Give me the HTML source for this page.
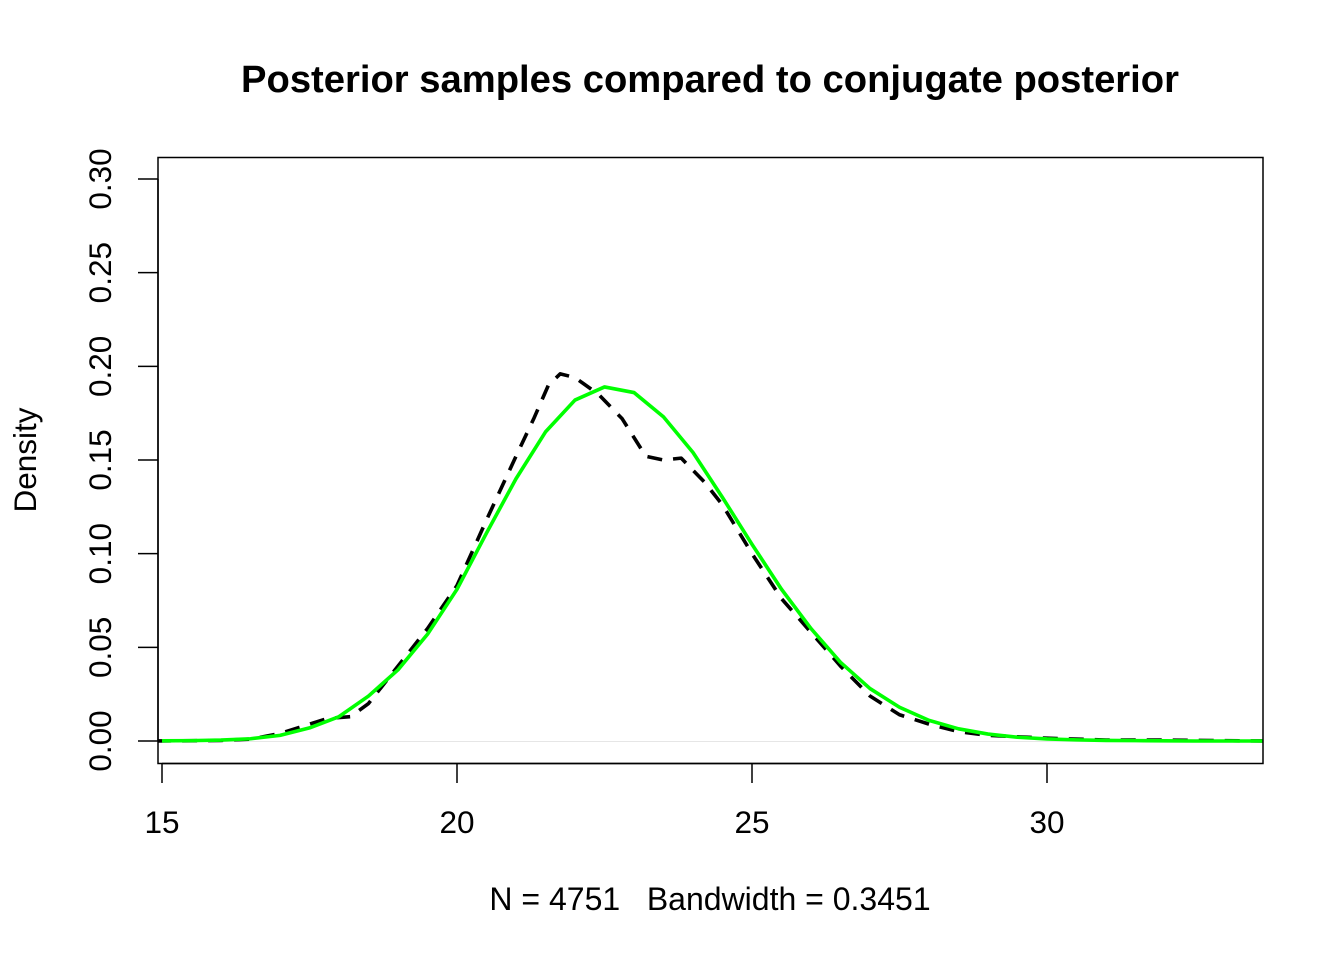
<!DOCTYPE html>
<html><head><meta charset="utf-8"><style>
html,body{margin:0;padding:0;background:#fff}
svg{display:block;font-family:"Liberation Sans",Arial,sans-serif}
</style></head><body>
<svg id="chart" width="1344" height="960" viewBox="0 0 1344 960" xmlns="http://www.w3.org/2000/svg">
<rect x="0" y="0" width="1344" height="960" fill="#fff"/>
<text x="710" y="92" text-anchor="middle" font-size="38.2" font-weight="bold">Posterior samples compared to conjugate posterior</text>
<line x1="158" y1="741.5" x2="1263" y2="741.5" stroke="#e6e6e6" stroke-width="1"/>
<g id="series"></g>
<rect x="158" y="157.5" width="1105" height="606" fill="none" stroke="#000" stroke-width="1.5"/>
<g id="axes"></g>
<text transform="translate(36,460) rotate(-90)" text-anchor="middle" font-size="31.5">Density</text>
<text x="710" y="910" text-anchor="middle" font-size="32" xml:space="preserve">N = 4751   Bandwidth = 0.3451</text>
</svg>
<script>
const xTicks = [15, 20, 25, 30];
const yTicks = [0, 0.05, 0.10, 0.15, 0.20, 0.25, 0.30];
const yTickLabels = ["0.00", "0.05", "0.10", "0.15", "0.20", "0.25", "0.30"];
const conjX = [15,15.5,16,16.5,17,17.5,18,18.5,19,19.5,20,20.5,21,21.5,22,22.5,23,23.5,24,24.5,25,25.5,26,26.5,27,27.5,28,28.5,29,29.5,30,30.5,31,31.5,32,32.5,33,33.5,33.7];
const conjY = [0.0001,0.0002,0.0005,0.0012,0.003,0.007,0.013,0.024,0.038,0.057,0.081,0.111,0.140,0.165,0.182,0.189,0.186,0.173,0.154,0.130,0.105,0.081,0.060,0.042,0.028,0.018,0.011,0.0065,0.0037,0.002,0.0011,0.0006,0.0003,0.0002,0.0001,0,0,0,0];
const kdeX = [14.9,16,16.5,17,17.5,17.8,18.2,18.5,19,19.5,20,20.5,21,21.3,21.55,21.75,22.0,22.4,22.8,23.2,23.5,23.8,24.2,24.5,25,25.5,26,26.5,27,27.5,28,28.5,29,30,31,32,33,33.7];
const kdeY = [0,0.0003,0.001,0.004,0.009,0.012,0.013,0.02,0.04,0.06,0.083,0.118,0.152,0.172,0.190,0.196,0.194,0.185,0.172,0.152,0.150,0.151,0.138,0.126,0.100,0.076,0.058,0.040,0.024,0.014,0.009,0.005,0.003,0.0015,0.0005,0.0005,0.0002,0];
const NS = "http://www.w3.org/2000/svg";
const sx = v => 162 + (v - 15) * 59;
const sy = v => 741 - v * (562 / 0.30);
const series = document.getElementById('series');
const axes = document.getElementById('axes');
function poly(xs, ys, color, dash, name) {
  const p = document.createElementNS(NS, 'polyline');
  p.setAttribute('points', xs.map((x, i) => sx(x) + ',' + sy(ys[i])).join(' '));
  p.setAttribute('fill', 'none');
  p.setAttribute('stroke', color);
  p.setAttribute('stroke-width', '3.6');
  p.setAttribute('stroke-linejoin', 'round');
  if (dash) p.setAttribute('stroke-dasharray', dash);
  
  
  series.appendChild(p);
}
const clip = document.createElementNS(NS, 'clipPath');
clip.id = 'pc';
const cr = document.createElementNS(NS, 'rect');
cr.setAttribute('x', 158); cr.setAttribute('y', 157); cr.setAttribute('width', 1105); cr.setAttribute('height', 606);
clip.appendChild(cr);
document.getElementById('chart').appendChild(clip);
series.setAttribute('clip-path', 'url(#pc)');
poly(kdeX, kdeY, '#000', '15 11', 'kde-density-line');
poly(conjX, conjY, '#00ff00', null, 'conjugate-posterior-line');
function ln(x1, y1, x2, y2, name) {
  const l = document.createElementNS(NS, 'line');
  l.setAttribute('x1', x1); l.setAttribute('y1', y1); l.setAttribute('x2', x2); l.setAttribute('y2', y2);
  l.setAttribute('stroke', '#000'); l.setAttribute('stroke-width', '1.5');
  
  
  axes.appendChild(l);
}
ln(sx(xTicks[0]), 763.5, sx(xTicks[xTicks.length - 1]), 763.5, 'x-axis-line');
xTicks.forEach(v => {
  ln(sx(v), 763, sx(v), 783, 'x-tick');
  const t = document.createElementNS(NS, 'text');
  t.setAttribute('x', sx(v)); t.setAttribute('y', 833);
  t.setAttribute('text-anchor', 'middle'); t.setAttribute('font-size', '31.5');
  t.textContent = v;
  
  
  axes.appendChild(t);
});
ln(158, sy(yTicks[0]), 158, sy(yTicks[yTicks.length - 1]), 'y-axis-line');
yTicks.forEach((v, i) => {
  ln(138, sy(v), 158, sy(v), 'y-tick');
  const t = document.createElementNS(NS, 'text');
  t.setAttribute('transform', 'translate(111,' + sy(v) + ') rotate(-90)');
  t.setAttribute('text-anchor', 'middle'); t.setAttribute('font-size', '31.5');
  t.textContent = yTickLabels[i];
  
  
  axes.appendChild(t);
});
</script>
</body></html>
